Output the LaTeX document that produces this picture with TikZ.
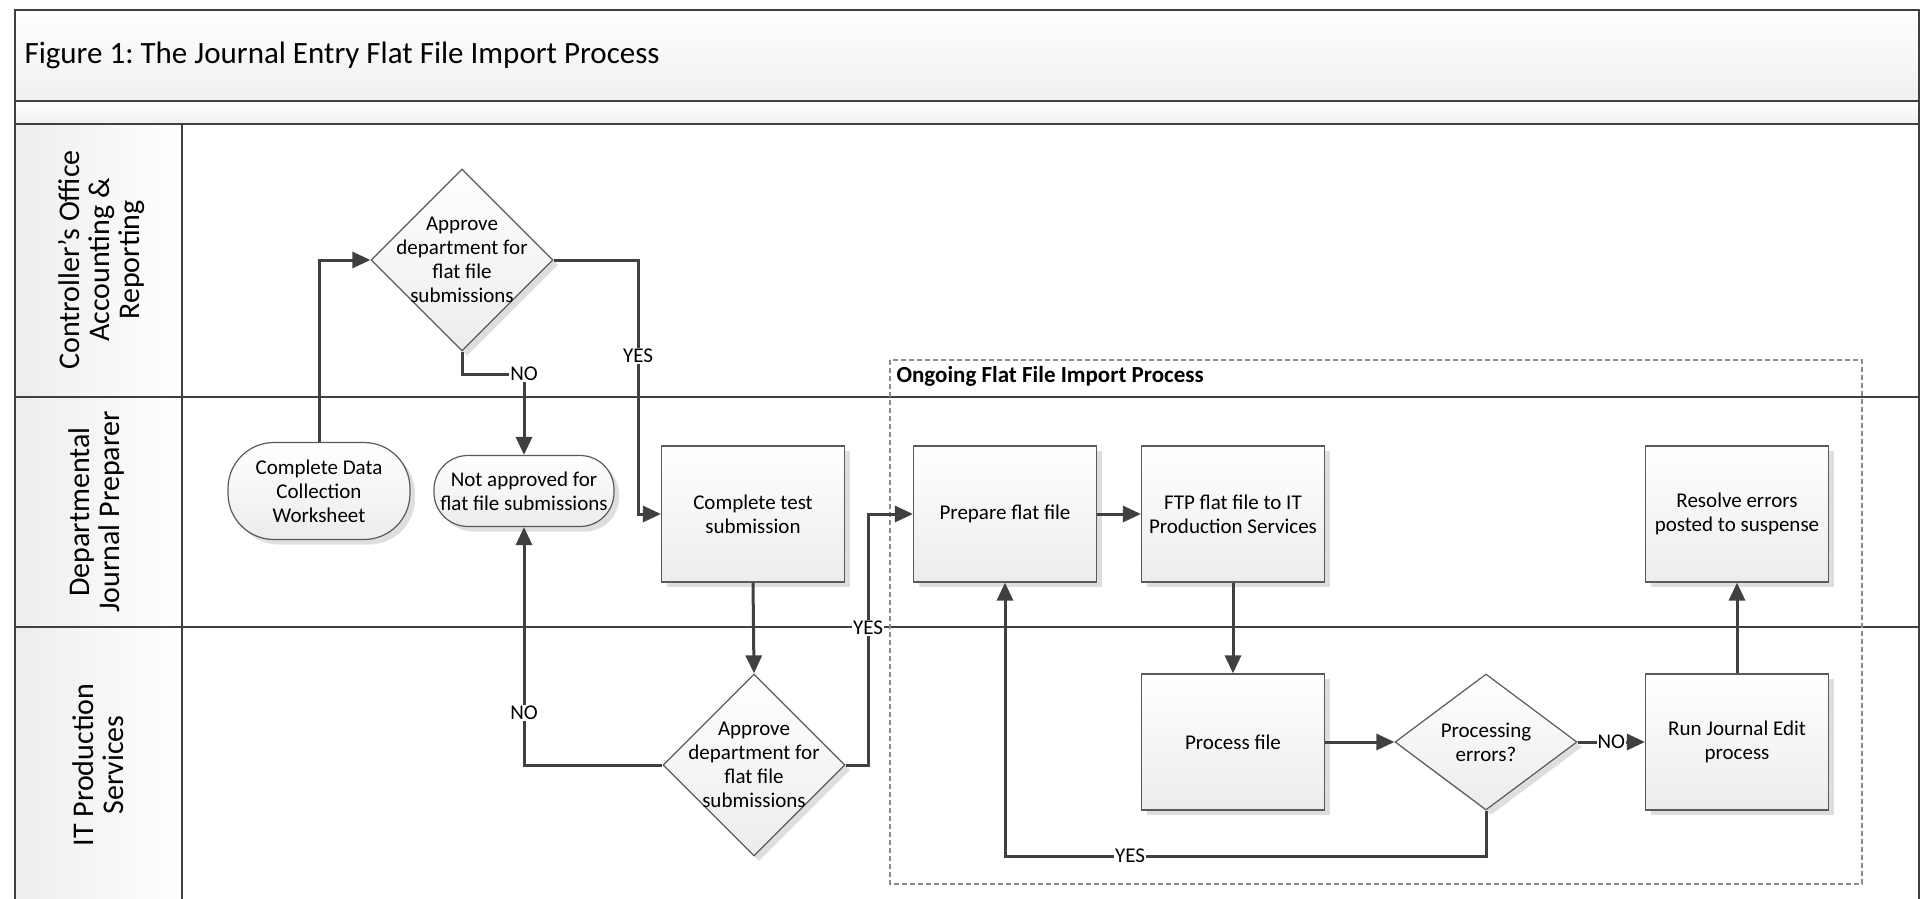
\documentclass[tikz,border=0pt]{standalone}
\usepackage{fontspec}
\setmainfont{Carlito}
\frenchspacing
\usetikzlibrary{arrows.meta,shapes.geometric,shadows}
\definecolor{linec}{HTML}{404040}
\definecolor{borderc}{HTML}{5A5A5A}
\definecolor{fillb}{HTML}{ECECEC}
\begin{document}
\begin{tikzpicture}[x=1pt,y=-1pt,
  every node/.style={font=\fontsize{21}{24}\selectfont, text=black},
  shad/.style={drop shadow={shadow xshift=5pt, shadow yshift=-5pt, fill=black, opacity=0.13}},
  proc/.style={rectangle, draw=borderc, line width=1.2pt, top color=white, bottom color=fillb,
    minimum width=183pt, minimum height=136pt, align=center, inner sep=2pt, shad},
  term/.style={rectangle, draw=borderc, line width=1.2pt, top color=white, bottom color=fillb,
    align=center, inner sep=0pt, shad},
  dec/.style={diamond, draw=borderc, line width=1.2pt, top color=white, bottom color=fillb,
    inner sep=0pt, shad},
  dectext/.style={align=center, font=\fontsize{21}{24}\selectfont},
  conn/.style={draw=linec, line width=3pt, -{Triangle[length=18pt,width=16pt]}},
  lbl/.style={fill=white, inner sep=1pt, font=\fontsize{21}{22}\selectfont},
  lanel/.style={draw=linec, line width=2pt},
  lanetxt/.style={rotate=90, align=center, font=\fontsize{30}{30}\selectfont},
]
\useasboundingbox (0,0) rectangle (1925,899);
% bands
\path[top color=white, bottom color=black!6] (15,10) rectangle (1919,101);
\path[top color=white, bottom color=black!6] (15,101) rectangle (1919,124);
\path[left color=black!7, right color=white] (15,124) rectangle (182,397);
\path[left color=black!7, right color=white] (15,397) rectangle (182,627);
\path[left color=black!7, right color=white] (15,627) rectangle (182,906);
\draw[lanel] (15,101) -- (1919,101);
\draw[lanel] (15,124) -- (1919,124);
\draw[lanel] (182,124) -- (182,906);
\draw[lanel] (15,397) -- (1919,397);
\draw[lanel] (15,627) -- (1919,627);
\draw[draw=linec, line width=2.5pt] (15,906) -- (15,10) -- (1919,10) -- (1919,906);
\node[anchor=west, font=\fontsize{31}{34}\selectfont] (title) at (21,55) {Figure 1: The Journal Entry Flat File Import Process};
\node[lanetxt] (lane1) at (101,260) {Controller’s Office\\Accounting \&\\Reporting};
\node[lanetxt] (lane2) at (97,512) {Departmental\\Journal Preparer};
\node[lanetxt] (lane3) at (98,765) {IT Production\\Services};
% group
\draw[draw=black!45, line width=1.1pt, dashed, dash pattern=on 5pt off 3pt] (890,360) rectangle (1862,884);
\node[anchor=west, font=\bfseries\fontsize{23}{26}\selectfont] (grp) at (893,376) {Ongoing Flat File Import Process};
% nodes
\node[dec, minimum width=182pt, minimum height=182pt, label={[dectext]center:Approve\\department for\\flat file\\submissions}] (d1) at (462,260) {};
\node[term, rounded corners=46pt, minimum width=182pt, minimum height=97pt] (cdw) at (319,491) {Complete Data\\Collection\\Worksheet};
\node[term, rounded corners=34pt, minimum width=180pt, minimum height=71pt] (na) at (524,491) {Not approved for\\flat file submissions};
\node[proc] (ct) at (753,514) {Complete test\\submission};
\node[dec, minimum width=182pt, minimum height=182pt, label={[dectext]center:Approve\\department for\\flat file\\submissions}] (d2) at (754,765) {};
\node[proc] (pf) at (1005,514) {Prepare flat file};
\node[proc] (ftp) at (1233,514) {FTP flat file to IT\\Production Services};
\node[proc] (pr) at (1233,742) {Process file};
\node[dec, minimum width=182pt, minimum height=136pt, label={[dectext]center:Processing\\errors?}] (pe) at (1486,742) {};
\node[proc] (rj) at (1737,742) {Run Journal Edit\\process};
\node[proc] (rs) at (1737,514) {Resolve errors\\posted to suspense};
% connectors
\draw[conn] (cdw.north) |- (d1.west);
\draw[conn] (d1.south) |- (na.north |- 0,374) node[lbl] {NO} -- (na.north);
\draw[conn] (d1.east) -| (638,356) node[lbl] {YES} |- (ct.west);
\draw[conn] (ct.south) -- (d2.north);
\draw[conn] (d2.west) -| (na.south |- 0,713) node[lbl] {NO} -- (na.south);
\draw[conn] (d2.east) -| (868,628) node[lbl] {YES} |- (pf.west);
\draw[conn] (pf.east) -- (ftp.west);
\draw[conn] (ftp.south) -- (pr.north);
\draw[conn] (pr.east) -- (pe.west);
\draw[conn] (pe.east) -- node[lbl] {NO} (rj.west);
\draw[conn] (pe.south) |- (1130,856) node[lbl] {YES} -| (pf.south);
\draw[conn] (rj.north) -- (rs.south);
\end{tikzpicture}
\end{document}
